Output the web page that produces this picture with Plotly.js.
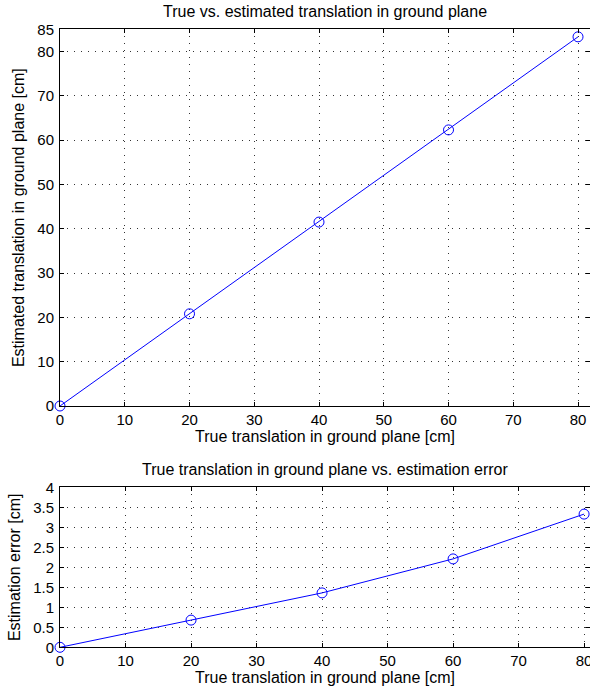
<!DOCTYPE html>
<html>
<head>
<meta charset="utf-8">
<script src="https://cdn.plot.ly/plotly-3.0.1.min.js"></script>
<style>html,body{margin:0;padding:0;background:#fff;}#chart{width:590px;height:691px;}</style>
</head>
<body>
<div id="chart"></div>
<script>
const trueTranslation = [0, 20, 40, 60, 80];
const estimatedTranslation = [0, 20.8, 41.5, 62.3, 83.3];
const estimationError = [0, 0.68, 1.36, 2.21, 3.33];
const xTicks = [0, 10, 20, 30, 40, 50, 60, 70, 80];
const topYTicks = [0, 10, 20, 30, 40, 50, 60, 70, 80, 85];
const bottomYTicks = [0, 0.5, 1, 1.5, 2, 2.5, 3, 3.5, 4];

const font = {family: 'Liberation Sans, Arial, sans-serif', color: '#000'};
const tickFont = {family: font.family, color: '#000', size: 15};
const labelFont = {family: font.family, color: '#000', size: 16};
const titleFont = {family: font.family, color: '#000', size: 16};

function axisCommon(extra) {
  return Object.assign({
    showline: true, linecolor: '#000', linewidth: 1, mirror: 'ticks',
    ticks: 'inside', ticklen: 4, tickcolor: '#000', tickwidth: 1,
    showgrid: true, gridcolor: '#333', griddash: '1px,6px', gridwidth: 1,
    zeroline: false, tickfont: tickFont, automargin: false,
    ticklabeloverflow: 'allow'
  }, extra);
}

const line = {color: '#0000ff', width: 1};
const marker = {symbol: 'circle-open', size: 10, color: '#0000ff', line: {color: '#0000ff', width: 1}};

const traces = [
  {x: trueTranslation, y: estimatedTranslation, xaxis: 'x', yaxis: 'y', mode: 'lines+markers', line: line, marker: marker, cliponaxis: false, showlegend: false},
  {x: trueTranslation, y: estimationError, xaxis: 'x2', yaxis: 'y2', mode: 'lines+markers', line: line, marker: marker, cliponaxis: false, showlegend: false}
];

const layout = {
  width: 590, height: 691,
  margin: {l: 60, r: 0, t: 0, b: 0},
  paper_bgcolor: '#fff', plot_bgcolor: '#fff',
  font: font,
  showlegend: false,
  xaxis: axisCommon({domain: [0, 1], range: [0, 81.85], tickvals: xTicks, anchor: 'y',
    title: {text: 'True translation in ground plane [cm]', font: labelFont, standoff: 2}}),
  yaxis: axisCommon({domain: [1 - 406/691, 1 - 29.3/691], range: [0, 85], tickvals: topYTicks, anchor: 'x', ticklabelstandoff: 2,
    title: {text: 'Estimated translation in ground plane [cm]', font: labelFont, standoff: 8}}),
  xaxis2: axisCommon({domain: [0, 1], range: [0, 80.9], tickvals: xTicks, anchor: 'y2',
    title: {text: 'True translation in ground plane [cm]', font: labelFont, standoff: 2}}),
  yaxis2: axisCommon({domain: [1 - 647.3/691, 1 - 487.3/691], range: [0, 4], tickvals: bottomYTicks, anchor: 'x2', ticklabelstandoff: 2,
    title: {text: 'Estimation error [cm]', font: labelFont, standoff: 8}}),
  annotations: [
    {text: 'True vs. estimated translation in ground plane', xref: 'paper', yref: 'paper', x: 0.5, y: 1 - 12/691, xanchor: 'center', yanchor: 'middle', showarrow: false, font: titleFont},
    {text: 'True translation in ground plane vs. estimation error', xref: 'paper', yref: 'paper', x: 0.5, y: 1 - 469/691, xanchor: 'center', yanchor: 'middle', showarrow: false, font: titleFont}
  ]
};

Plotly.newPlot('chart', traces, layout, {displayModeBar: false, staticPlot: true});
</script>
</body>
</html>
